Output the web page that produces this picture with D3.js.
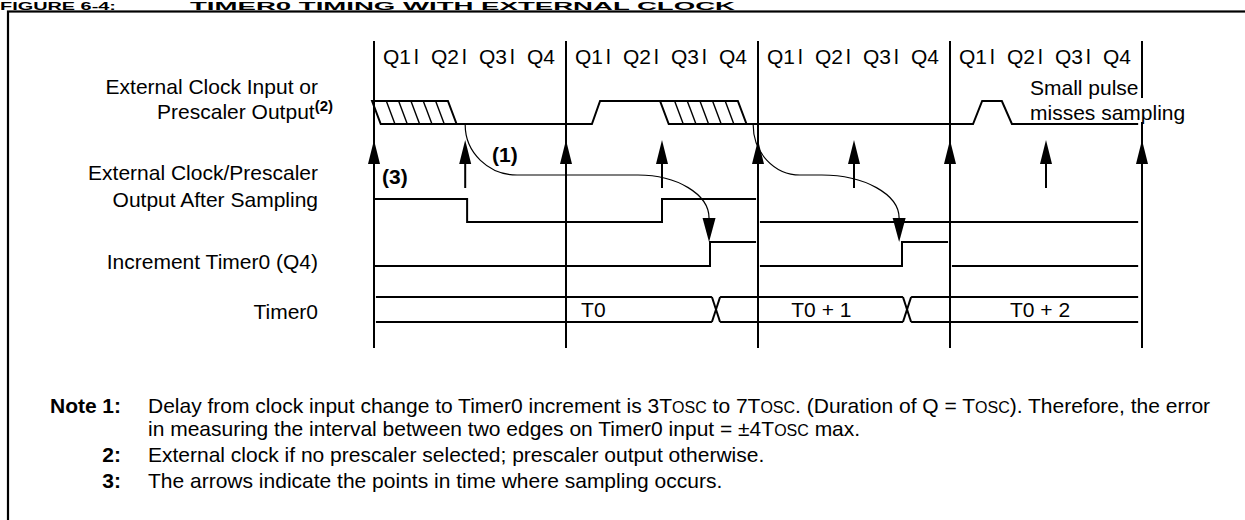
<!DOCTYPE html>
<html>
<head>
<meta charset="utf-8">
<script src="https://cdn.jsdelivr.net/npm/d3@7"></script>
<style>
  body { margin: 0; background: #fff; }
  svg text { font-family: "Liberation Sans", Arial, Helvetica, sans-serif; fill: #000; }
</style>
</head>
<body>
<svg id="chart" width="1245" height="520"></svg>
<script>
// time axis is in Tosc units (one Q state = 1), four per instruction cycle
const cycleEdges = [0, 4, 8, 12, 16];
const qLabels = ["Q1", "Q2", "Q3", "Q4"];
const sampleTimes = [0, 1.9, 4, 6, 8, 10, 12, 14, 16];

const signalLabels = [
  ["External Clock Input or", "Prescaler Output"],
  ["External Clock/Prescaler", "Output After Sampling"],
  ["Increment Timer0 (Q4)"],
  ["Timer0"]
];

// runs of [time, level], level 1 = high, 0 = low
const inputRuns = [
  [[0.18, 0], [4.54, 0], [4.71, 1], [6.0, 1]],
  [[6.18, 0], [12.48, 0], [12.67, 1], [13.08, 1], [13.29, 0], [15.92, 0]]
];
const inputHatch = [[0, 1.54], [6.0, 7.58]];   // undefined (changing) regions
const sampledRuns = [
  [[0, 1], [1.94, 1], [1.94, 0], [6, 0], [6, 1], [7.96, 1]],
  [[8.04, 0], [15.92, 0]]
];
const incrementRuns = [
  [[0, 0], [7, 0], [7, 1], [7.96, 1]],
  [[8.04, 0], [11, 0], [11, 1], [11.96, 1]],
  [[12.04, 0], [15.92, 0]]
];
const timerBus = [0.04, 7.04, 11.02, 15.92];   // start, value changes, end
const timerValues = ["T0", "T0 + 1", "T0 + 2"];
const timerValueAt = [4.57, 9.32, 13.875];
// delay arrows: start, end of first bend, start of second bend, arrow tip
const delayArrows = [[1.9, 2.98, 5.5, 6.98], [7.9, 8.875, 9.33, 10.94]];

const notes = [
  ["1:", "Delay from clock input change to Timer0 increment is 3T{OSC} to 7T{OSC}. (Duration of Q = T{OSC}). Therefore, the error",
         "in measuring the interval between two edges on Timer0 input = \u00b14T{OSC} max."],
  ["2:", "External clock if no prescaler selected; prescaler output otherwise."],
  ["3:", "The arrows indicate the points in time where sampling occurs."]
];

const svg = d3.select("#chart");
const fs = 21;

const x = d3.scaleLinear().domain([0, 16]).range([374, 1142]);
const yInput = d3.scaleLinear().domain([0, 1]).range([124, 101]);
const ySampled = d3.scaleLinear().domain([0, 1]).range([222, 199]);
const yIncr = d3.scaleLinear().domain([0, 1]).range([266, 242]);
const busTop = 297, busBottom = 322;
const gridTop = 41, gridBottom = 348;
const headTip = 140, headLen = 24, shortStemEnd = 188;
const curveMid = 175, curveHead = 218;

// title strip above the frame, and frame
svg.append("text").attr("x", 0).attr("y", 10).attr("font-weight", "bold")
  .attr("font-size", 11).attr("textLength", 116).attr("lengthAdjust", "spacingAndGlyphs").text("FIGURE 6-4:");
svg.append("text").attr("x", 190).attr("y", 10).attr("font-weight", "bold")
  .attr("font-size", 11).attr("textLength", 545).attr("lengthAdjust", "spacingAndGlyphs")
  .text("TIMER0 TIMING WITH EXTERNAL CLOCK");
svg.append("rect").attr("x", 8).attr("y", 11.5).attr("width", 1300).attr("height", 600)
  .attr("fill", "none").attr("stroke", "#000").attr("stroke-width", 2.2);

// cycle boundary lines
svg.selectAll("line.cycle").data(cycleEdges).enter().append("line")
  .attr("class", "cycle")
  .attr("x1", d => x(d)).attr("x2", d => x(d))
  .attr("y1", gridTop).attr("y2", gridBottom)
  .attr("stroke", "#000").attr("stroke-width", 2);

// Q labels
const qData = d3.range(4).flatMap(c => qLabels.map((q, i) => ({ t: c * 4 + i, q, last: i === 3 })));
const qText = svg.selectAll("text.q").data(qData).enter().append("text")
  .attr("class", "q")
  .attr("x", d => x(d.t) + 9).attr("y", 64).attr("font-size", fs);
qText.append("tspan").text(d => d.q);
qText.filter(d => !d.last).append("tspan").attr("dx", 3).text("l");

// signal names
const labelY = [[94, 119], [180, 207], [269], [319]];
signalLabels.forEach((lines, r) => {
  lines.forEach((s, i) => {
    const t = svg.append("text").attr("text-anchor", "end").attr("font-size", fs)
      .attr("x", r === 0 && i === 1 ? 333 : 318).attr("y", labelY[r][i]);
    t.append("tspan").text(s);
    if (r === 0 && i === 1) {
      t.append("tspan").attr("font-weight", "bold").attr("font-size", 15).attr("dy", -8).text("(2)");
    }
  });
});

const wave = (ys) => d3.line().x(d => x(d[0])).y(d => ys(d[1]));
function drawRuns(runs, ys) {
  svg.append("g").selectAll("path").data(runs).enter().append("path")
    .attr("d", wave(ys)).attr("fill", "none").attr("stroke", "#000")
    .attr("stroke-width", 2).attr("stroke-linejoin", "miter");
}

// input clock with hatched regions
const skew = 0.18;
drawRuns(inputRuns, yInput);
inputHatch.forEach(([s, e]) => {
  svg.append("path")
    .attr("d", `M${x(s - 0.04)},${yInput(1)}L${x(e)},${yInput(1)}L${x(e + skew)},${yInput(0)}L${x(s + skew - 0.04)},${yInput(0)}Z`)
    .attr("fill", "none").attr("stroke", "#000").attr("stroke-width", 2);
  d3.range(1, 6).forEach(k => {
    const t = s + k * (e - s) / 6;
    svg.append("line").attr("x1", x(t)).attr("y1", yInput(1))
      .attr("x2", x(t + skew)).attr("y2", yInput(0))
      .attr("stroke", "#000").attr("stroke-width", 1.4);
  });
});

drawRuns(sampledRuns, ySampled);
drawRuns(incrementRuns, yIncr);

// Timer0 bus
const cross = 0.17;
const busG = svg.append("g").attr("stroke", "#000").attr("stroke-width", 2).attr("fill", "none");
for (let i = 0; i < timerBus.length - 1; i++) {
  const a = i === 0 ? timerBus[0] : timerBus[i] + cross, b = timerBus[i + 1];
  [busTop, busBottom].forEach(yy => busG.append("line")
    .attr("x1", x(a)).attr("x2", x(b)).attr("y1", yy).attr("y2", yy));
}
timerBus.slice(1, -1).forEach(s => {
  busG.append("line").attr("x1", x(s)).attr("y1", busTop).attr("x2", x(s + cross)).attr("y2", busBottom);
  busG.append("line").attr("x1", x(s)).attr("y1", busBottom).attr("x2", x(s + cross)).attr("y2", busTop);
});
svg.selectAll("text.tv").data(timerValues).enter().append("text")
  .attr("class", "tv").attr("text-anchor", "middle").attr("font-size", fs)
  .attr("x", (d, i) => x(timerValueAt[i])).attr("y", 317).text(d => d);

// sampling arrows
const head = t => `M${x(t) - 6},${headTip + headLen}L${x(t)},${headTip}L${x(t) + 6},${headTip + headLen}Z`;
sampleTimes.forEach(t => {
  if (!cycleEdges.includes(t)) {
    svg.append("line").attr("x1", x(t)).attr("x2", x(t))
      .attr("y1", headTip + 10).attr("y2", shortStemEnd)
      .attr("stroke", "#000").attr("stroke-width", 2);
  }
  svg.append("path").attr("d", head(t)).attr("fill", "#000");
});

// delay arrows
delayArrows.forEach(([t0, t1, t2, t3]) => {
  const x0 = x(t0), x1 = x(t1), x2 = x(t2), x3 = x(t3), y0 = yInput(0) + 1;
  const p = d3.path();
  p.moveTo(x0, y0);
  p.bezierCurveTo(x0, y0 + 0.55 * (curveMid - y0), x0 + 0.45 * (x1 - x0), curveMid, x1, curveMid);
  p.lineTo(x2, curveMid);
  p.bezierCurveTo(x2 + 0.55 * (x3 - x2), curveMid, x3, curveMid + 0.45 * (curveHead - curveMid), x3, curveHead);
  svg.append("path").attr("d", p.toString()).attr("fill", "none").attr("stroke", "#000").attr("stroke-width", 1.2);
  svg.append("path")
    .attr("d", `M${x3 - 6.5},${curveHead}L${x3 + 6.5},${curveHead}L${x3},${yIncr(1)}Z`)
    .attr("fill", "#000");
});

svg.append("text").attr("x", 492).attr("y", 162).attr("font-weight", "bold").attr("font-size", fs).text("(1)");
svg.append("text").attr("x", 382).attr("y", 184).attr("font-weight", "bold").attr("font-size", fs).text("(3)");

// small pulse annotation (covers the last grid line)
svg.append("text").attr("x", 1030).attr("y", 95).attr("font-size", fs).text("Small pulse");
const miss = svg.append("text").attr("x", 1030).attr("y", 120).attr("font-size", fs).text("misses sampling");
const bb = miss.node().getBBox();
svg.insert("rect", "text:last-of-type").attr("x", bb.x + bb.width * 0.6).attr("y", 98)
  .attr("width", bb.width * 0.4).attr("height", 24).attr("fill", "#fff");

// notes
const noteY = [[413, 436], [462], [488]];
svg.append("text").attr("x", 50).attr("y", noteY[0][0]).attr("font-weight", "bold").attr("font-size", fs).text("Note");
notes.forEach(([num, ...lines], i) => {
  svg.append("text").attr("x", 121).attr("y", noteY[i][0]).attr("text-anchor", "end")
    .attr("font-weight", "bold").attr("font-size", fs).text(num);
  lines.forEach((line, j) => {
    const t = svg.append("text").attr("x", 148).attr("y", noteY[i][j]).attr("font-size", fs);
    line.split(/\{([^}]+)\}/).forEach((part, k) => {
      if (part) t.append("tspan").attr("font-size", k % 2 ? 16 : fs).text(part);
    });
  });
});
</script>
</body>
</html>
